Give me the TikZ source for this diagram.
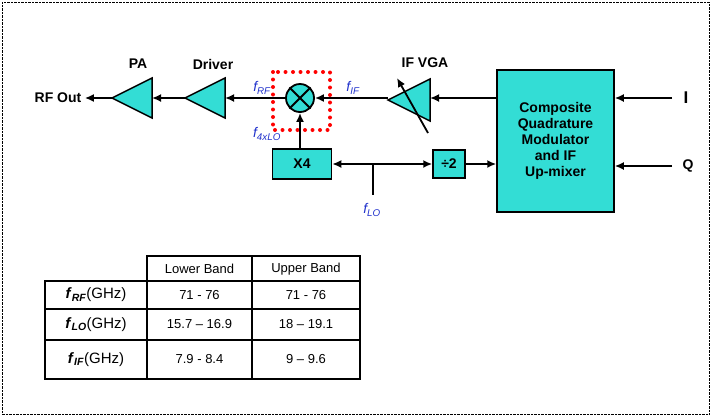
\documentclass[tikz,border=0pt]{standalone}
\usepackage{fontspec}
\setmainfont{Liberation Sans}
\usetikzlibrary{arrows.meta}
\definecolor{blk}{HTML}{33DDD5}
\definecolor{lbl}{HTML}{2233CC}
\newcommand{\fbig}{\fontsize{14}{16}\selectfont}
\newcommand{\fmid}{\fontsize{13}{15}\selectfont}
\tikzset{
  box/.style={draw, line width=1.5pt, fill=blk, font=\fbig\bfseries},
  sig/.style={draw, line width=1.8pt, -{Latex[length=9pt,width=8pt]}},
  flab/.style={text=lbl, font=\fbig\itshape},
  tcell/.style={font=\fmid}
}
\begin{document}
\begin{tikzpicture}[x=1pt,y=-1pt]
\useasboundingbox (0,0) rectangle (711,416);
\draw[densely dotted] (2,2) rectangle (709,414);

% amplifiers
\draw[box] (112,98) -- (152,78) -- (152,118) -- cycle;
\draw[box] (185,98) -- (225,78) -- (225,118) -- cycle;
\draw[box] (388,100) -- (430,79) -- (430,121) -- cycle;
\draw[line width=1.8pt, -{Latex[length=9pt,width=8pt]}] (428,133) -- (397,78);
\node[font=\fbig\bfseries] (pa) at (138,64) {PA};
\node[font=\fbig\bfseries] (drv) at (213,64) {Driver};
\node[font=\fbig\bfseries] (vga) at (425,63) {IF VGA};
\coordinate (patip) at (112,98);
\coordinate (pabase) at (152,98);
\coordinate (drvtip) at (185,98);
\coordinate (drvbase) at (225,98);
\coordinate (vgatip) at (388,98);
\coordinate (vgabase) at (430,98);
\node[font=\fbig\bfseries] (out) at (58,98) {RF Out};

% mixer
\draw[red, line width=4pt, dash pattern=on 0pt off 7.5pt, line cap=round] (273,72) rectangle (330,130);
\node[draw, circle, line width=1.8pt, fill=blk, minimum size=28pt, inner sep=0pt] (mix) at (300,98) {};
\draw[line width=1.8pt] (mix.45) -- (mix.225) (mix.135) -- (mix.315);
\node[flab] at (262,88) {f\textsubscript{RF}};
\node[flab] at (353,88) {f\textsubscript{IF}};
\node[flab] at (267,134) {f\textsubscript{4xLO}};

% blocks
\node[box, minimum width=59pt, minimum height=30pt] (x4) at (302,164) {X4};
\node[box, minimum width=32pt, minimum height=28pt] (div) at (449,164) {\textbf{÷}2};
\node[box, minimum width=117pt, minimum height=142pt, align=center, font=\fbig\bfseries] (cmp) at (555.5,141) {Composite\\Quadrature\\Modulator\\and IF\\Up-mixer};
\node[font=\fontsize{17}{19}\selectfont\bfseries] (i) at (686,98) {I};
\node[font=\fbig\bfseries] (q) at (688,166) {Q};
\coordinate (tap) at (373,164);
\coordinate (tapend) at (373,195);
\node[flab] (flo) at (372,210) {f\textsubscript{LO}};

% connections
\draw[sig] (patip) -- (out.east);
\draw[sig] (drvtip) -- (pabase);
\draw[sig] (mix.west) -- (drvbase);
\draw[sig] (vgatip) -- (mix.east);
\draw[sig] (cmp.west |- vgabase) -- (vgabase);
\draw[sig] (mix.south |- x4.north) -- (mix.south);
\draw[sig, {Latex[length=9pt,width=8pt]}-{Latex[length=9pt,width=8pt]}] (x4.east) -- (div.west);
\draw[line width=1.8pt] (tap) -- (tapend);
\draw[sig] (div.east) -- (cmp.west |- div.east);
\draw[sig] (672,98) -- (cmp.east |- i);
\draw[sig] (672,166) -- (cmp.east |- q);

% table
\draw[line width=1.8pt] (147,256) -- (360,256) -- (360,379) -- (45,379) -- (45,281) -- (147,281) -- cycle;
\draw[line width=1.8pt] (45,281) -- (360,281) (45,309) -- (360,309) (45,340) -- (360,340);
\draw[line width=1.8pt] (147,281) -- (147,379) (252,256) -- (252,379);
\node[tcell] (lb) at (199.5,269) {Lower Band};
\node[tcell] (ub) at (306,269) {Upper Band};
\node[font=\fontsize{15}{17}\selectfont] (r1) at (96,295) {\textbf{\textit{f}}\textsubscript{\textbf{\textit{RF}}}(GHz)};
\node[font=\fontsize{15}{17}\selectfont] (r2) at (96,324.5) {\textbf{\textit{f}}\textsubscript{\textbf{\textit{LO}}}(GHz)};
\node[font=\fontsize{15}{17}\selectfont] (r3) at (96,359.5) {\textbf{\textit{f}}\textsubscript{\textbf{\textit{IF}}}(GHz)};
\node[tcell] at (199.5,295) {71 - 76};
\node[tcell] at (306,295) {71 - 76};
\node[tcell] at (199.5,324.5) {15.7 – 16.9};
\node[tcell] at (306,324.5) {18 – 19.1};
\node[tcell] at (199.5,359.5) {7.9 - 8.4};
\node[tcell] at (306,359.5) {9 – 9.6};
\end{tikzpicture}
\end{document}
